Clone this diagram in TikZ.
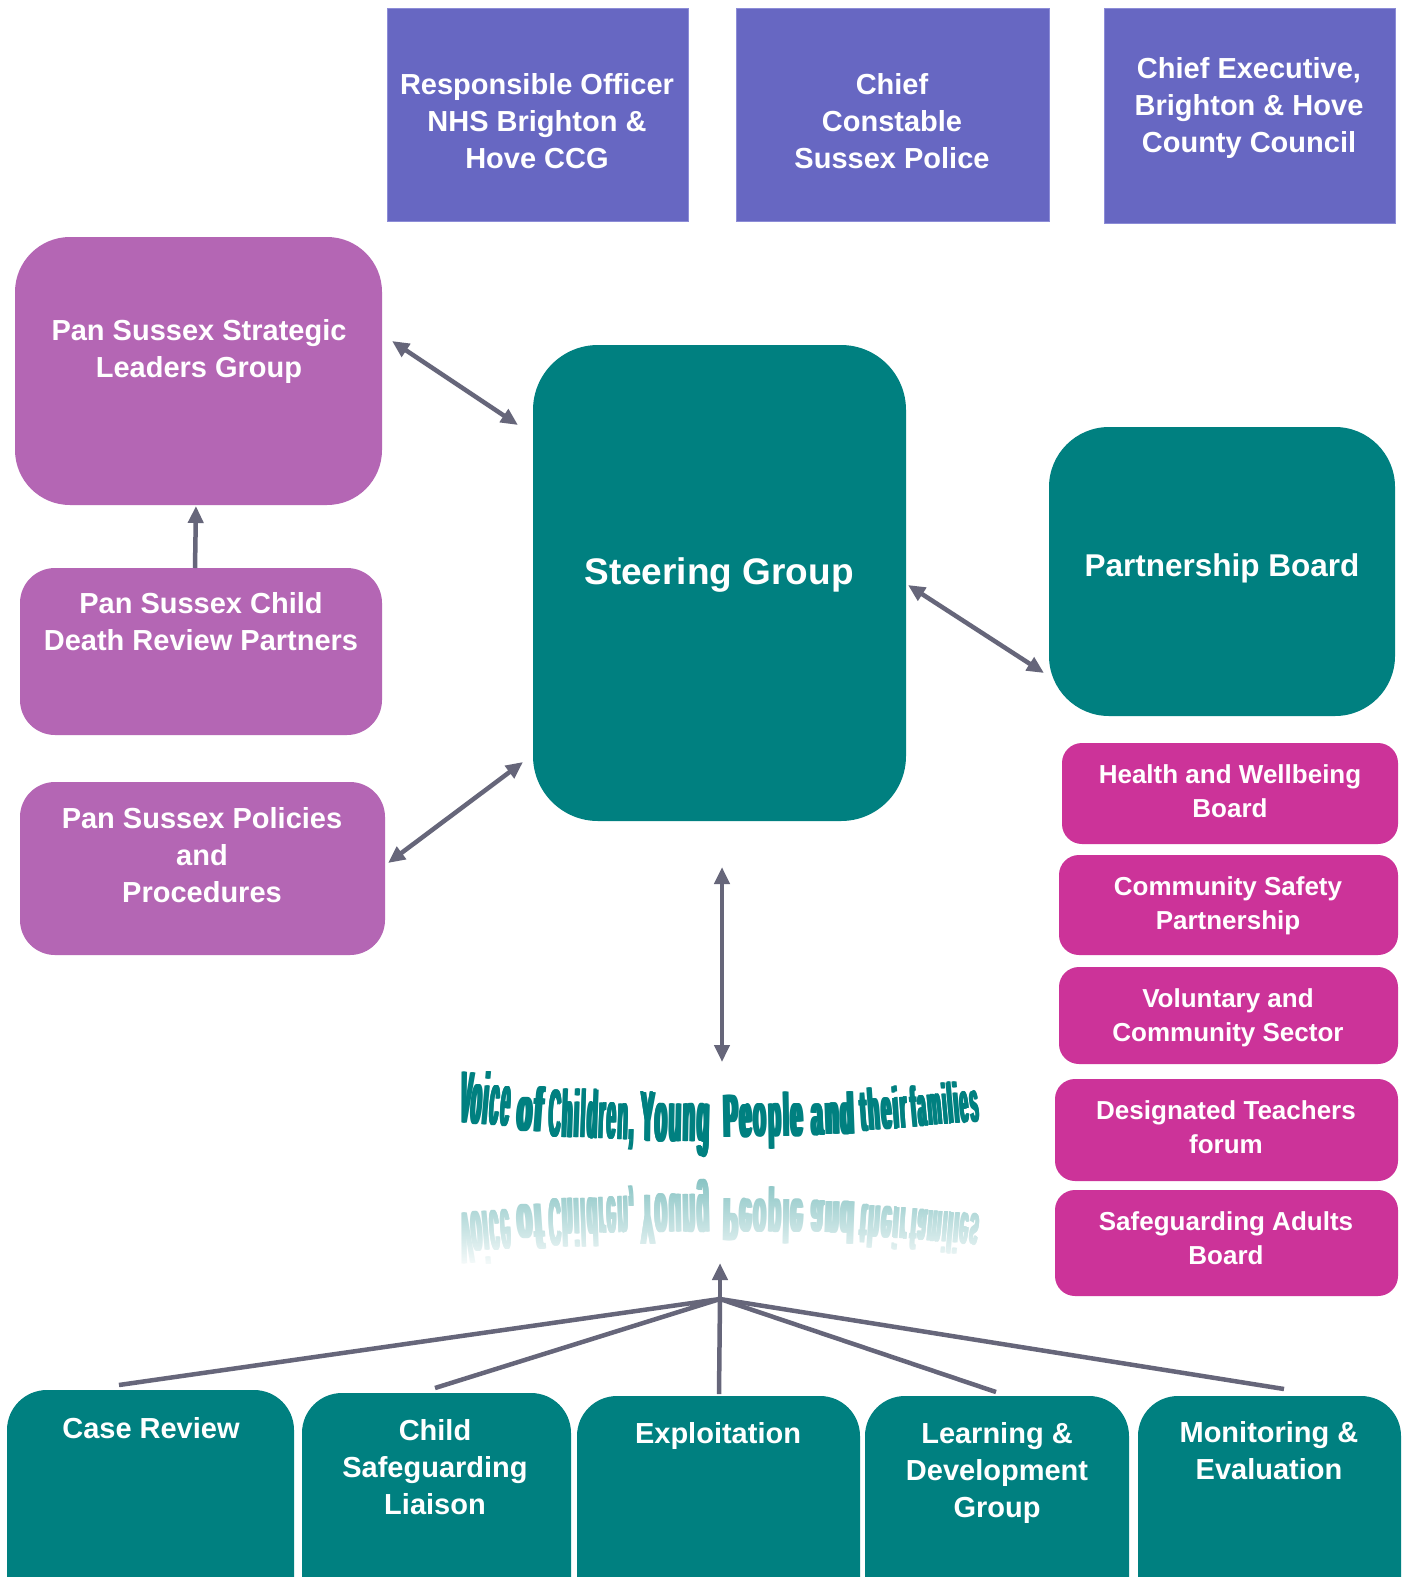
\documentclass[tikz,border=0pt]{standalone}
\usepackage{fontspec}
\usepackage{graphicx}
\setmainfont{Liberation Sans}
\newfontfamily\wafont{Liberation Sans}[LetterSpace=10]
\usetikzlibrary{arrows.meta,fadings}
\definecolor{tealc}{RGB}{0,128,128}
\definecolor{purp}{RGB}{180,102,180}
\definecolor{mag}{RGB}{204,51,153}
\definecolor{slate}{RGB}{103,103,194}
\definecolor{slateedge}{RGB}{140,140,215}
\definecolor{arrg}{RGB}{102,102,122}
\tikzset{
  cbox/.style={inner sep=0pt, outer sep=0pt, anchor=north west},
  topbox/.style={cbox, fill=slate, draw=slateedge, line width=1pt},
  purpbox/.style={cbox, fill=purp, rounded corners=#1},
  tealbox/.style={cbox, fill=tealc, rounded corners=#1},
  magbox/.style={cbox, fill=mag, rounded corners=20pt},
  lbl/.style={text=white, align=center, inner sep=0pt, font=\bfseries\fontsize{29}{37}\selectfont},
  maglbl/.style={lbl, font=\bfseries\fontsize{26}{34}\selectfont},
  conn/.style={draw=arrg, line width=4.5pt},
  biarrow/.style={conn, {Triangle[length=17pt,width=15pt]}-{Triangle[length=17pt,width=15pt]}},
  uparrow/.style={conn, -{Triangle[length=17pt,width=15pt]}},
  wa/.style={anchor=north west, inner sep=0pt, outer sep=0pt, font=\wafont\bfseries},
}
\newcommand{\fat}[1]{\rlap{#1}\kern0.4pt\rlap{#1}\kern0.4pt\rlap{#1}\kern0.4pt\rlap{#1}\kern0.4pt#1}
% name, x, top, width, total height, rotation, text
\newcommand{\waword}[7]{\node[wa, rotate=#6] (#1) at (#2,#3) {\resizebox*{#4pt}{#5pt}{\fat{#7}}};}
\newcommand{\wawordr}[7]{\node[wa, transform shape, rotate=#6] (#1) at (#2,#3) {\resizebox*{#4pt}{#5pt}{\fat{#7}}};}
\begin{document}
\begin{tikzpicture}[x=1pt,y=-1pt]
\useasboundingbox (0,0) rectangle (1407,1577);
\clip (0,0) rectangle (1407,1577);
\fill[white] (0,0) rectangle (1407,1577);

% top boxes
\node[topbox, minimum width=301pt, minimum height=213pt] (ro) at (387,8) {};
\node[topbox, minimum width=313pt, minimum height=213pt] (cc) at (736,8) {};
\node[topbox, minimum width=291pt, minimum height=215pt] (ce) at (1104,8) {};
\node[lbl] (rot) at (537,123.6) {\strut Responsible Officer\\NHS Brighton \&\\Hove CCG\strut};
\node[lbl] (cct) at (892,123.6) {\strut Chief\\Constable\\Sussex Police\strut};
\node[lbl] (cet) at (1249,108) {\strut Chief Executive,\\Brighton \& Hove\\County Council\strut};

% purple boxes
\node[purpbox=55pt, minimum width=367pt, minimum height=268pt] (strat) at (15,237) {};
\node[purpbox=35pt, minimum width=362pt, minimum height=167pt] (cdr) at (20,568) {};
\node[purpbox=35pt, minimum width=365pt, minimum height=173pt] (pol) at (20,782) {};
\node[lbl] (stratt) at (199,352) {\strut Pan Sussex Strategic\\Leaders Group\strut};
\node[lbl] (cdrt) at (201,625) {\strut Pan Sussex Child\\Death Review Partners\strut};
\node[lbl] (polt) at (202,858) {\strut Pan Sussex Policies\\and\\Procedures\strut};

% steering and partnership
\node[tealbox=65pt, minimum width=373pt, minimum height=476pt] (steer) at (533,345) {};
\node[tealbox=60pt, minimum width=346pt, minimum height=289pt] (pb) at (1049,427) {};
\node[lbl, font=\bfseries\fontsize{37}{44}\selectfont] (steert) at (719,575.5) {\strut Steering Group};
\node[lbl, font=\bfseries\fontsize{31.5}{38}\selectfont] (pbt) at (1222,568.6) {\strut Partnership Board};

% magenta boxes
\node[magbox, minimum width=336pt, minimum height=101pt] (hw) at (1062,743) {};
\node[magbox, minimum width=339pt, minimum height=100pt] (cs) at (1059,855) {};
\node[magbox, minimum width=339pt, minimum height=97pt] (vc) at (1059,967) {};
\node[magbox, minimum width=343pt, minimum height=102pt] (dt) at (1055,1079) {};
\node[magbox, minimum width=343pt, minimum height=106pt] (sa) at (1055,1190) {};
\node[maglbl] (hwt) at (1230,794) {\strut Health and Wellbeing\\Board\strut};
\node[maglbl] (cst) at (1228,905.6) {\strut Community Safety\\Partnership\strut};
\node[maglbl] (vct) at (1228,1017.6) {\strut Voluntary and\\Community Sector\strut};
\node[maglbl] (dtt) at (1226,1129.6) {\strut Designated Teachers\\forum\strut};
\node[maglbl] (sat) at (1226,1240.6) {\strut Safeguarding Adults\\Board\strut};

% bottom boxes
\node[tealbox=40pt, minimum width=287pt, minimum height=260pt] (cr) at (7,1390) {};
\node[tealbox=40pt, minimum width=269pt, minimum height=260pt] (csl) at (302,1393) {};
\node[tealbox=40pt, minimum width=283pt, minimum height=260pt] (ex) at (577,1396) {};
\node[tealbox=40pt, minimum width=264pt, minimum height=260pt] (ld) at (865,1396) {};
\node[tealbox=40pt, minimum width=263pt, minimum height=260pt] (me) at (1138,1396) {};
\node[lbl] (crt) at (151,1430.6) {\strut Case Review\strut};
\node[lbl] (cslt) at (435,1469.6) {\strut Child\\Safeguarding\\Liaison\strut};
\node[lbl] (ext) at (718,1435.6) {\strut Exploitation\strut};
\node[lbl] (ldt) at (997,1472.6) {\strut Learning \&\\Development\\Group\strut};
\node[lbl] (met) at (1269,1453.6) {\strut Monitoring \&\\Evaluation\strut};

% WordArt text
\begin{scope}[text=tealc]
\waword{wVoice}{462}{1069}{53}{54}{-5}{Voice}
\waword{wof}{518}{1085}{29}{46}{-4}{of}
\waword{wChildren}{549}{1088}{88}{59}{-2}{Children,}
\waword{wYoung}{640}{1092}{72}{64}{-1}{Young}
\waword{wPeople}{722}{1093}{82}{57}{1}{People}
\waword{wand}{809}{1093}{46}{43}{2}{and}
\waword{wtheir}{858}{1089}{49}{43}{4}{their}
\waword{wfamilies}{908}{1086}{70}{42}{5}{families}
\end{scope}
% reflection
\begin{scope}[shift={(0,2336)}, yscale=-1, text=tealc!50]
\wawordr{rVoice}{462}{1069}{53}{54}{-5}{Voice}
\wawordr{rof}{518}{1085}{29}{46}{-4}{of}
\wawordr{rChildren}{549}{1088}{88}{59}{-2}{Children,}
\wawordr{rYoung}{640}{1092}{72}{64}{-1}{Young}
\wawordr{rPeople}{722}{1093}{82}{57}{1}{People}
\wawordr{rand}{809}{1093}{46}{43}{2}{and}
\wawordr{rtheir}{858}{1089}{49}{43}{4}{their}
\wawordr{rfamilies}{908}{1086}{70}{42}{5}{families}
\end{scope}
\fill[white, path fading=north] (440,1172) rectangle (1000,1272);

% connectors
\coordinate (a1s) at (392,341); \coordinate (a1e) at (518,425);
\coordinate (a2s) at (908,585); \coordinate (a2e) at (1044,673);
\coordinate (a3s) at (388,863); \coordinate (a3e) at (523,762);
\coordinate (a4s) at (722,867); \coordinate (a4e) at (722,1062);
\coordinate (a5s) at (195,568); \coordinate (a5e) at (196,506);
\coordinate (hub) at (720,1299); \coordinate (hubtop) at (720,1263);
\coordinate (t1) at (119,1385); \coordinate (t2) at (435,1388);
\coordinate (t3) at (719,1394); \coordinate (t4) at (996,1392);
\coordinate (t5) at (1284,1389);
\draw[biarrow] (a1s) -- (a1e);
\draw[biarrow] (a2s) -- (a2e);
\draw[biarrow] (a3s) -- (a3e);
\draw[biarrow] (a4s) -- (a4e);
\draw[uparrow] (a5s) -- (a5e);
\draw[uparrow] (hub) -- (hubtop);
\draw[conn] (t1) -- (hub) -- (t2);
\draw[conn] (t3) -- (hub) -- (t4);
\draw[conn] (hub) -- (t5);
\end{tikzpicture}
\end{document}
